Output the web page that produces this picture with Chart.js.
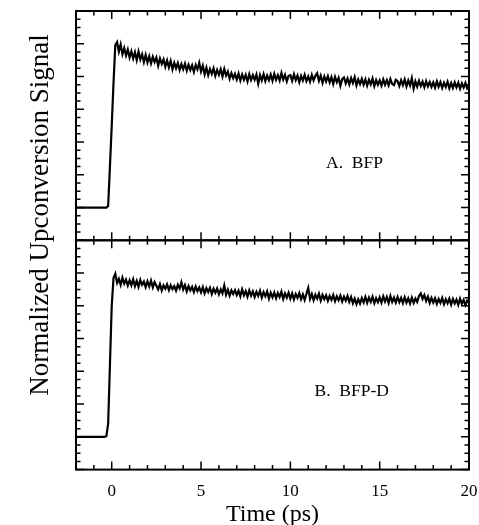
<!DOCTYPE html>
<html>
<head>
<meta charset="utf-8">
<script src="https://cdn.jsdelivr.net/npm/chart.js@4"></script>
<style>
  body { margin: 0; background: #fff; }
  #wrap { position: relative; width: 479px; height: 525px; }
  #yTitle {
    position: absolute; left: -161px; top: 200px; width: 400px; height: 30px;
    line-height: 30px; text-align: center; transform: rotate(-90deg);
    font-family: 'Liberation Serif', serif; font-size: 27px; color: #000;
  }
</style>
</head>
<body>
<div id="wrap">
  <canvas id="kinetics" width="479" height="525"></canvas>
  <div id="yTitle">Normalized Upconversion Signal</div>
</div>
<script>
  // sample grid of the traces: -2 ps .. 20 ps, 0.1 ps apart
  const timeStart = -2;
  const timeStep = 0.1;

  const xTickLabels = [0, 5, 10, 15, 20];
  const panelNames = ['A.  BFP', 'B.  BFP-D'];
  const panelLabelAt = [[12.0, 2.2], [11.35, 2.25]];

  // A. BFP, -2.0 .. 20.0 ps
  const signalA = [
    1.00, 1.00, 1.00, 1.00, 1.00, 1.00, 1.00, 1.00, 1.00, 1.00,
    1.00, 1.00, 1.00, 1.00, 1.00, 1.00, 1.00, 1.00, 1.05, 2.25,
    3.50, 4.80,
    5.96, 6.05, 5.76, 5.98, 5.68, 5.87, 5.64, 5.82,
    5.58, 5.77, 5.55, 5.74, 5.50, 5.76, 5.52, 5.68, 5.44, 5.66,
    5.43, 5.62, 5.40, 5.60, 5.44, 5.58, 5.33, 5.55, 5.38, 5.52,
    5.30, 5.49, 5.28, 5.47, 5.22, 5.42, 5.25, 5.41, 5.20, 5.38,
    5.22, 5.39, 5.18, 5.36, 5.20, 5.34, 5.14, 5.35, 5.22, 5.42,
    5.15, 5.33, 5.07, 5.27, 5.04, 5.23, 5.08, 5.25, 5.02, 5.20,
    5.05, 5.22, 5.00, 5.23, 5.03, 5.15, 4.93, 5.10, 4.95, 5.08,
    4.91, 5.09, 4.88, 5.06, 4.90, 5.05, 4.85, 5.07, 4.89, 5.04,
    4.90, 5.06, 4.78, 5.04, 4.88, 5.07, 4.86, 5.03, 4.89, 5.06,
    4.87, 5.08, 4.90, 5.04, 4.88, 5.11, 4.91, 5.05, 4.85, 5.02,
    5.04, 4.87, 5.07, 4.89, 5.03, 4.83, 5.02, 4.88, 5.05, 4.86,
    5.00, 4.84, 5.05, 4.88, 5.02, 5.10, 4.87, 5.03, 4.81, 5.00,
    4.85, 5.01, 4.82, 4.98, 4.77, 4.99, 4.83, 4.96, 4.72, 4.92,
    4.97, 4.79, 4.94, 4.76, 4.95, 4.80, 4.98, 4.73, 4.91, 4.77,
    4.93, 4.75, 4.91, 4.72, 4.90, 4.76, 4.94, 4.71, 4.89, 4.75,
    4.88, 4.72, 4.91, 4.75, 4.89, 4.73, 4.92, 4.77, 4.74, 4.90,
    4.86, 4.71, 4.89, 4.74, 4.91, 4.70, 4.88, 4.73, 4.95, 4.63,
    4.85, 4.69, 4.87, 4.71, 4.84, 4.67, 4.86, 4.70, 4.83, 4.68,
    4.82, 4.66, 4.85, 4.69, 4.83, 4.65, 4.81, 4.68, 4.84, 4.64,
    4.80, 4.65, 4.82, 4.67, 4.81, 4.63, 4.79, 4.66, 4.80, 4.64,
    4.72
  ];

  // B. BFP-D, -2.0 .. 20.0 ps
  const signalB = [
    1.00, 1.00, 1.00, 1.00, 1.00, 1.00, 1.00, 1.00, 1.00, 1.00,
    1.00, 1.00, 1.00, 1.00, 1.00, 1.00, 1.00, 1.02, 1.40, 3.20,
    5.00, 5.85,
    5.98, 5.70, 5.82, 5.64, 5.86, 5.68, 5.80, 5.62,
    5.78, 5.63, 5.81, 5.60, 5.76, 5.58, 5.79, 5.64, 5.74, 5.57,
    5.75, 5.59, 5.77, 5.56, 5.72, 5.61, 5.50, 5.66, 5.47, 5.62,
    5.52, 5.65, 5.48, 5.63, 5.51, 5.60, 5.46, 5.64, 5.53, 5.72,
    5.50, 5.63, 5.44, 5.60, 5.47, 5.58, 5.42, 5.59, 5.45, 5.56,
    5.41, 5.57, 5.38, 5.54, 5.42, 5.55, 5.36, 5.52, 5.40, 5.53,
    5.35, 5.50, 5.38, 5.62, 5.34, 5.49, 5.31, 5.47, 5.36, 5.48,
    5.33, 5.46, 5.29, 5.50, 5.32, 5.45, 5.28, 5.47, 5.31, 5.44,
    5.27, 5.43, 5.30, 5.46, 5.25, 5.42, 5.29, 5.44, 5.22, 5.40,
    5.26, 5.41, 5.23, 5.39, 5.27, 5.43, 5.21, 5.38, 5.25, 5.40,
    5.22, 5.38, 5.19, 5.36, 5.24, 5.39, 5.20, 5.35, 5.18, 5.37,
    5.55, 5.21, 5.36, 5.17, 5.34, 5.22, 5.37, 5.16, 5.33, 5.20,
    5.32, 5.15, 5.30, 5.18, 5.33, 5.14, 5.29, 5.17, 5.31, 5.13,
    5.28, 5.16, 5.30, 5.12, 5.27, 5.08, 5.22, 5.05, 5.20, 5.07,
    5.24, 5.10, 5.27, 5.09, 5.25, 5.12, 5.28, 5.08, 5.23, 5.11,
    5.26, 5.10, 5.29, 5.13, 5.27, 5.09, 5.30, 5.12, 5.25, 5.10,
    5.27, 5.11, 5.24, 5.08, 5.26, 5.10, 5.23, 5.07, 5.25, 5.09,
    5.22, 5.12, 5.30, 5.38, 5.21, 5.33, 5.15, 5.28, 5.09, 5.24,
    5.10, 5.23, 5.06, 5.21, 5.09, 5.24, 5.05, 5.20, 5.08, 5.22,
    5.04, 5.21, 5.07, 5.19, 5.03, 5.22, 5.06, 5.18, 5.02, 5.16,
    5.10
  ];

  const serif = "'Liberation Serif', 'Times New Roman', serif";

  function toPoints(values) {
    return values.map((v, i) => ({ x: +(timeStart + i * timeStep).toFixed(2), y: v }));
  }

  // frame + inward ticks on all four sides of each panel, and the panel labels
  const framePlugin = {
    id: 'frame',
    afterDatasetsDraw(chart) {
      const ctx = chart.ctx;
      const area = chart.chartArea;
      const xs = chart.scales.x;
      ['yA', 'yB'].forEach((id, p) => {
        const ys = chart.scales[id];
        const top = ys.top, bottom = ys.bottom;
        ctx.save();
        ctx.strokeStyle = '#000';
        ctx.lineWidth = 2;
        ctx.strokeRect(area.left, top, area.right - area.left, bottom - top);
        ctx.lineWidth = 1.5;
        ctx.beginPath();
        for (let t = -2; t <= 20; t++) {
          const px = xs.getPixelForValue(t);
          const len = t % 5 === 0 ? 8 : 4.5;
          ctx.moveTo(px, bottom); ctx.lineTo(px, bottom - len);
          ctx.moveTo(px, top); ctx.lineTo(px, top + len);
        }
        for (let k = 0; k <= 28; k++) {
          const py = ys.getPixelForValue(k / 4);
          const len = k % 4 === 0 ? 8 : 4.5;
          ctx.moveTo(area.left, py); ctx.lineTo(area.left + len, py);
          ctx.moveTo(area.right, py); ctx.lineTo(area.right - len, py);
        }
        ctx.stroke();
        ctx.fillStyle = '#000';
        ctx.font = '17.5px ' + serif;
        ctx.textAlign = 'left';
        ctx.textBaseline = 'alphabetic';
        const at = panelLabelAt[p];
        ctx.fillText(panelNames[p], xs.getPixelForValue(at[0]), ys.getPixelForValue(at[1]));
        ctx.restore();
      });
    }
  };

  const hiddenY = {
    type: 'linear', display: false, min: 0, max: 7, stack: 'panels', stackWeight: 1
  };

  new Chart(document.getElementById('kinetics'), {
    type: 'line',
    data: {
      datasets: [
        { label: 'BFP', data: toPoints(signalA), yAxisID: 'yA' },
        { label: 'BFP-D', data: toPoints(signalB), yAxisID: 'yB' }
      ]
    },
    options: {
      responsive: false,
      animation: false,
      layout: { padding: { left: 76, right: 10, top: 11, bottom: 0 } },
      elements: {
        line: { borderColor: '#000', borderWidth: 2.2, tension: 0 },
        point: { radius: 0 }
      },
      plugins: { legend: { display: false }, tooltip: { enabled: false } },
      scales: {
        x: {
          type: 'linear', min: -2, max: 20,
          afterBuildTicks: (scale) => { scale.ticks = xTickLabels.map(v => ({ value: v })); },
          // tick marks are drawn by the plugin; tickLength only spaces the labels
          grid: { display: false, drawTicks: true, tickLength: 11 },
          border: { display: false },
          ticks: { color: '#000', padding: 1, font: { family: serif, size: 17 } },
          title: {
            display: true, text: 'Time (ps)', color: '#000',
            font: { family: serif, size: 24, lineHeight: 1 },
            padding: { top: 0, bottom: -2 }
          }
        },
        // stacked panels: the scale listed last sits on top
        yB: Object.assign({}, hiddenY),
        yA: Object.assign({}, hiddenY)
      }
    },
    plugins: [framePlugin]
  });
</script>
</body>
</html>
